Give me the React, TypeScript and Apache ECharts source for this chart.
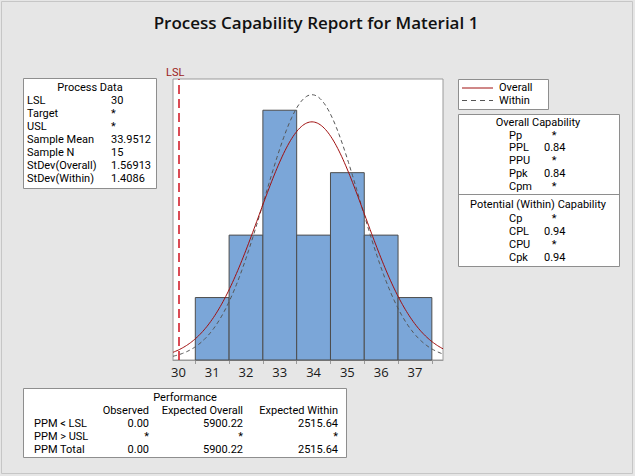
import React, { useEffect, useRef } from "react";
import * as echarts from "echarts";

// ---- data ----
const binEdges = [30.5, 31.5, 32.5, 33.5, 34.5, 35.5, 36.5, 37.5];
const binCounts = [1, 2, 4, 2, 3, 2, 1];
const xTickLabels = [30, 31, 32, 33, 34, 35, 36, 37];
const lslValue = 30;
const sampleMean = 33.9512;
const sampleN = 15;
const stdevOverall = 1.56913;
const stdevWithin = 1.4086;

const processDataLabels = ["LSL", "Target", "USL", "Sample Mean", "Sample N", "StDev(Overall)", "StDev(Within)"];
const processDataValues = ["30", "*", "*", "33.9512", "15", "1.56913", "1.4086"];

const overallCapLabels = ["Pp", "PPL", "PPU", "Ppk", "Cpm"];
const overallCapValues = ["*", "0.84", "*", "0.84", "*"];
const withinCapLabels = ["Cp", "CPL", "CPU", "Cpk"];
const withinCapValues = ["*", "0.94", "*", "0.94"];

const perfColumns = ["Observed", "Expected Overall", "Expected Within"];
const perfRowLabels = ["PPM < LSL", "PPM > USL", "PPM Total"];
const perfObserved = ["0.00", "*", "0.00"];
const perfExpOverall = ["5900.22", "*", "5900.22"];
const perfExpWithin = ["2515.64", "*", "2515.64"];

const X_MIN = 29.84;
const X_MAX = 37.83;

const FONT = "'Segoe UI', 'Open Sans', 'Noto Sans', sans-serif";
const SMALL_FONT = "Roboto, 'Open Sans', sans-serif";

function normalCurve(mean: number, sd: number, n: number, bw: number) {
  const pts: number[][] = [];
  const steps = 200;
  for (let i = 0; i <= steps; i++) {
    const x = X_MIN + ((X_MAX - X_MIN) * i) / steps;
    const z = (x - mean) / sd;
    const y = (n * bw * Math.exp(-0.5 * z * z)) / (sd * Math.sqrt(2 * Math.PI));
    pts.push([x, y]);
  }
  return pts;
}

function txt(text: string, x: number, y: number, align: string = "left", extra: any = {}) {
  return {
    type: "text",
    x,
    y,
    silent: true,
    style: {
      text,
      textAlign: align,
      textVerticalAlign: "middle",
      fontFamily: SMALL_FONT,
      fontSize: 11,
      lineHeight: 12,
      fill: "#000",
      ...extra,
    },
  };
}

function box(x: number, y: number, w: number, h: number) {
  return {
    type: "rect",
    shape: { x: x + 0.5, y: y + 0.5, width: w, height: h },
    style: { fill: "#fff", stroke: "#8e8e8e", lineWidth: 1 },
    silent: true,
  };
}

export default function App() {
  const ref = useRef<HTMLDivElement>(null);

  useEffect(() => {
    document.body.style.margin = "0";
    if (!ref.current) return;
    const chart = echarts.init(ref.current, undefined, { renderer: "svg" });

    const binWidth = binEdges[1] - binEdges[0];
    const histData = binCounts.map((c, i) => [binEdges[i], binEdges[i + 1], c]);

    const graphics: any[] = [];
    // outer border
    graphics.push({
      type: "rect",
      shape: { x: 1.5, y: 1.5, width: 631, height: 472 },
      style: { fill: "none", stroke: "#c6c6c6", lineWidth: 1 },
      silent: true,
    });
    // title
    graphics.push(
      txt("Process Capability Report for Material 1", 316, 22, "center", {
        fontFamily: FONT,
        fontSize: 17,
        fontWeight: 600,
        lineHeight: 20,
        fill: "#111",
      })
    );
    // LSL label
    graphics.push(txt("LSL", 166, 72, "left", { fill: "#9b1b1b", fontSize: 11 }));

    // Process data box
    graphics.push(box(23, 78, 133, 110));
    graphics.push(txt("Process Data", 90, 87.5, "center"));
    processDataLabels.forEach((l, i) => {
      const y = 100.5 + 13 * i;
      graphics.push(txt(l, 27, y));
      graphics.push(txt(processDataValues[i], 111, y));
    });

    // Legend box
    graphics.push(box(458, 79, 90, 30));
    graphics.push({
      type: "line",
      shape: { x1: 462, y1: 88, x2: 493, y2: 88 },
      style: { stroke: "#a01010", lineWidth: 1 },
      silent: true,
    });
    graphics.push({
      type: "line",
      shape: { x1: 462, y1: 100.5, x2: 493, y2: 100.5 },
      style: { stroke: "#555", lineWidth: 1, lineDash: [5, 4] },
      silent: true,
    });
    graphics.push(txt("Overall", 499, 87.5));
    graphics.push(txt("Within", 499, 100.5));

    // Capability box
    graphics.push(box(458, 114, 161, 152));
    graphics.push({
      type: "line",
      shape: { x1: 458, y1: 194.5, x2: 619, y2: 194.5 },
      style: { stroke: "#8e8e8e", lineWidth: 1 },
      silent: true,
    });
    graphics.push(txt("Overall Capability", 538, 122, "center"));
    overallCapLabels.forEach((l, i) => {
      const y = 135 + 12.9 * i;
      graphics.push(txt(l, 509, y));
      const v = overallCapValues[i];
      if (v === "*") graphics.push(txt(v, 554, y, "center"));
      else graphics.push(txt(v, 544, y));
    });
    graphics.push(txt("Potential (Within) Capability", 538, 204, "center"));
    withinCapLabels.forEach((l, i) => {
      const y = 218 + 13 * i;
      graphics.push(txt(l, 509, y));
      const v = withinCapValues[i];
      if (v === "*") graphics.push(txt(v, 554, y, "center"));
      else graphics.push(txt(v, 544, y));
    });

    // Performance box
    graphics.push(box(23, 388, 323, 69));
    graphics.push(txt("Performance", 185, 397.5, "center"));
    const colRight = [149, 243, 338];
    perfColumns.forEach((c, i) => graphics.push(txt(c, colRight[i], 410.5, "right")));
    perfRowLabels.forEach((l, i) => {
      const y = 423.5 + 13 * i;
      graphics.push(txt(l, 34, y));
      graphics.push(txt(perfObserved[i], colRight[0], y, "right"));
      graphics.push(txt(perfExpOverall[i], colRight[1], y, "right"));
      graphics.push(txt(perfExpWithin[i], colRight[2], y, "right"));
    });

    const option: any = {
      animation: false,
      backgroundColor: "#e6e6e6",
      grid: {
        left: 173,
        top: 79,
        width: 270,
        height: 281,
        show: true,
        backgroundColor: "#ffffff",
        borderColor: "#9a9a9a",
        borderWidth: 1,
      },
      xAxis: {
        type: "value",
        min: X_MIN,
        max: X_MAX,
        splitLine: { show: false },
        axisLine: { show: true, lineStyle: { color: "#9a9a9a" } },
        axisTick: {
          show: true,
          customValues: binEdges,
          length: 4,
          lineStyle: { color: "#9a9a9a" },
        },
        axisLabel: {
          customValues: xTickLabels,
          fontFamily: FONT,
          fontSize: 13,
          color: "#1a1a1a",
          margin: 5,
          formatter: (v: number) => String(Math.round(v)),
        },
      },
      yAxis: {
        type: "value",
        min: 0,
        max: 4.5,
        show: false,
        splitLine: { show: false },
      },
      series: [
        {
          type: "custom",
          data: histData,
          z: 2,
          renderItem: (params: any, api: any) => {
            const p0 = api.coord([api.value(0), api.value(2)]);
            const p1 = api.coord([api.value(1), 0]);
            return {
              type: "rect",
              shape: { x: p0[0], y: p0[1], width: p1[0] - p0[0], height: p1[1] - p0[1] },
              style: { fill: "#7ba6d8", stroke: "#4d4d4d", lineWidth: 1 },
            };
          },
          encode: { x: [0, 1], y: 2 },
          silent: true,
        },
        {
          type: "line",
          name: "Within",
          data: normalCurve(sampleMean, stdevWithin, sampleN, binWidth),
          showSymbol: false,
          smooth: false,
          z: 3,
          lineStyle: { color: "#555555", width: 1, type: [4, 3] },
          silent: true,
        },
        {
          type: "line",
          name: "Overall",
          data: normalCurve(sampleMean, stdevOverall, sampleN, binWidth),
          showSymbol: false,
          smooth: false,
          z: 4,
          lineStyle: { color: "#a01010", width: 1 },
          silent: true,
          markLine: {
            symbol: "none",
            silent: true,
            label: { show: false },
            lineStyle: { color: "#d0101e", width: 1.5, type: [9, 5] },
            data: [{ xAxis: lslValue }],
          },
        },
      ],
      graphic: graphics,
    };

    chart.setOption(option);
    return () => chart.dispose();
  }, []);

  return (
    <div
      ref={ref}
      style={{ position: "fixed", left: 0, top: 0, width: 635, height: 476 }}
    />
  );
}
